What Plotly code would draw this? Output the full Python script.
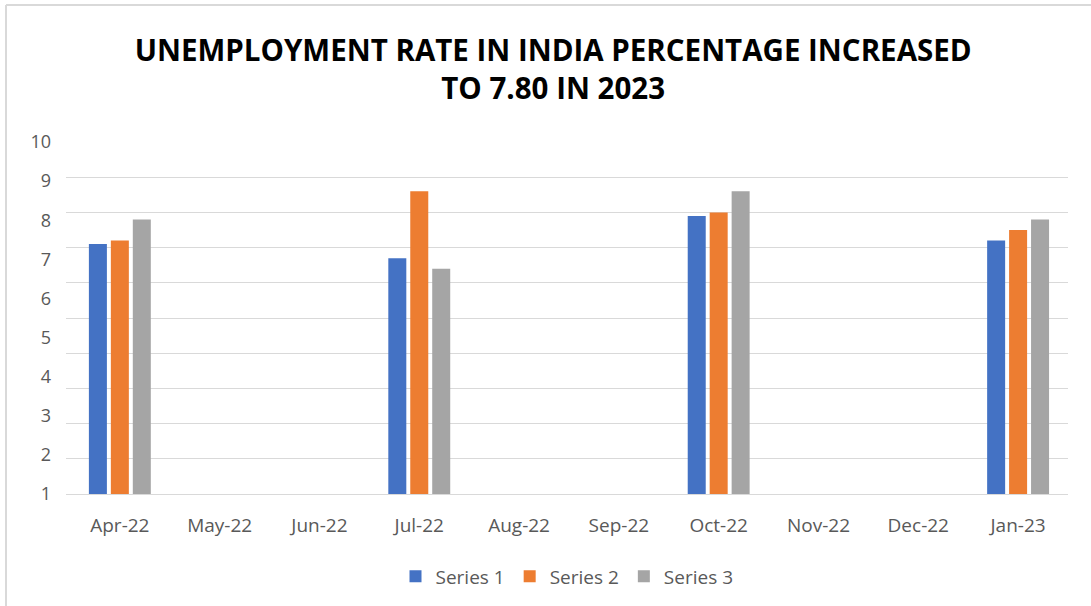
import plotly.graph_objects as go

months = ["Apr-22", "May-22", "Jun-22", "Jul-22", "Aug-22", "Sep-22",
          "Oct-22", "Nov-22", "Dec-22", "Jan-23"]
series1 = [7.1, None, None, 6.7, None, None, 7.9, None, None, 7.2]
series2 = [7.2, None, None, 8.6, None, None, 8.0, None, None, 7.5]
series3 = [7.8, None, None, 6.4, None, None, 8.6, None, None, 7.8]
series_names = ["Series 1", "Series 2", "Series 3"]
colors = ["#4472C4", "#ED7D31", "#A5A5A5"]
y_labels = [1, 2, 3, 4, 5, 6, 7, 8, 9, 10]

FONT = "Open Sans"
GREY = "#595959"

fig = go.Figure()
for name, vals, c in zip(series_names, [series1, series2, series3], colors):
    fig.add_trace(go.Bar(x=months, y=vals, name=name, marker_color=c,
                         marker_line_width=0))

# invisible trace to hold the label axis
fig.add_trace(go.Scatter(x=[months[0]], y=[1], yaxis="y2", mode="markers",
                         marker=dict(opacity=0), showlegend=False,
                         hoverinfo="skip"))

fig.update_layout(
    width=1091, height=606,
    margin=dict(l=66, r=23, t=142, b=112, autoexpand=False),
    paper_bgcolor="white", plot_bgcolor="white",
    title=dict(
        text="UNEMPLOYMENT RATE IN INDIA PERCENTAGE INCREASED<br>TO 7.80 IN 2023",
        x=0.507, xanchor="center", y=0.90, yanchor="top",
        font=dict(family=FONT, size=29.5, color="black", weight="bold"),
    ),
    barmode="group", bargap=0.34, bargroupgap=0.18,
    xaxis=dict(
        type="category", showgrid=False, showline=True, linecolor="#D9D9D9",
        linewidth=1, ticks="", ticklabelstandoff=14,
        tickfont=dict(family=FONT, size=19, color=GREY),
    ),
    yaxis=dict(
        range=[0, 10], dtick=1, showgrid=True, gridcolor="#D9D9D9",
        gridwidth=1, showticklabels=False, zeroline=False, showline=False,
    ),
    yaxis2=dict(
        range=[1, 10], tickvals=y_labels, overlaying="y", side="left",
        showgrid=False, zeroline=False, showline=False,
        ticklabelstandoff=14,
        tickfont=dict(family=FONT, size=18, color=GREY),
    ),
    legend=dict(
        orientation="h", x=0.5, xanchor="center", y=-0.18, yanchor="top",
        font=dict(family=FONT, size=19, color=GREY),
        itemwidth=30, traceorder="normal",
    ),
    shapes=[
        dict(type="line", xref="paper", yref="paper",
             x0=(6 - 66) / 1002, x1=(1091 - 66) / 1002,
             y0=(494 - 5) / 352, y1=(494 - 5) / 352,
             line=dict(color="#D9D9D9", width=2)),
        dict(type="line", xref="paper", yref="paper",
             x0=(6 - 66) / 1002, x1=(6 - 66) / 1002,
             y0=(494 - 5) / 352, y1=(494 - 606) / 352,
             line=dict(color="#D9D9D9", width=2)),
    ],
)

fig.write_html("out.html")
